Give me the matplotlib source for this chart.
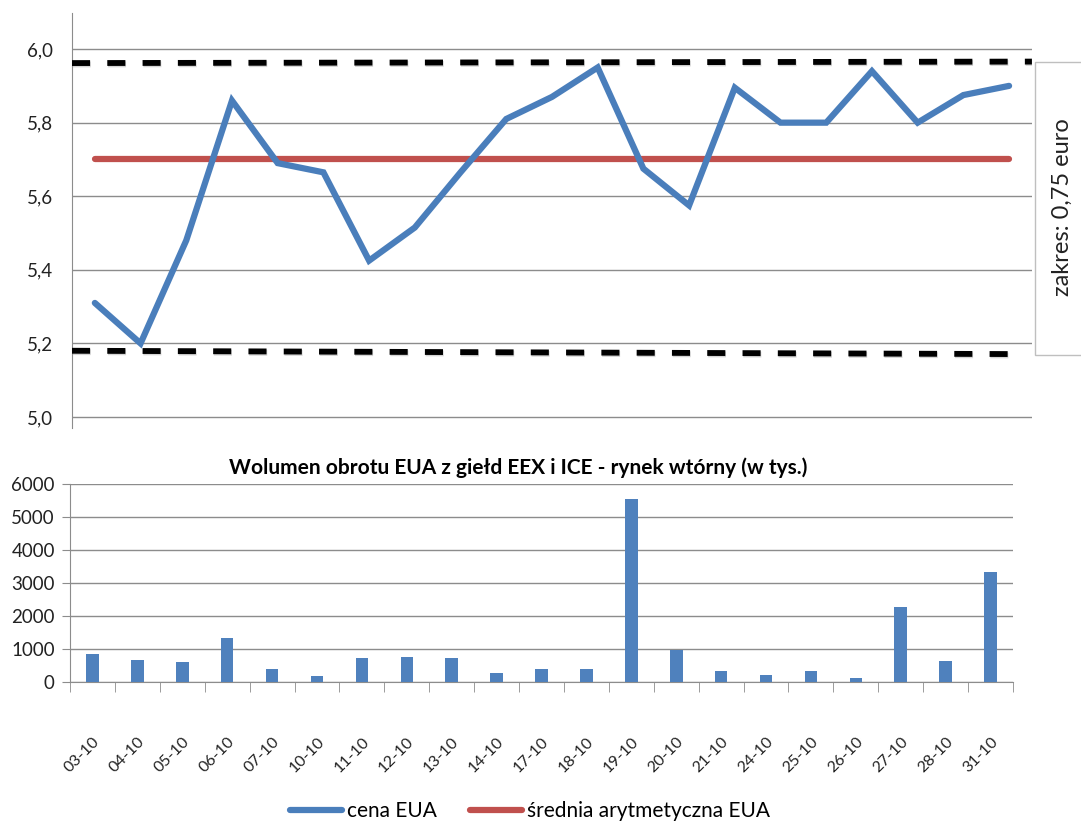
import matplotlib
matplotlib.use("Agg")
import matplotlib.pyplot as plt
import matplotlib.ticker as mticker
import matplotlib.patheffects as pe
from matplotlib.patches import Rectangle
import numpy as np

plt.rcParams["font.family"] = ["Lato", "DejaVu Sans"]

# ── Data ─────────────────────────────────────────────────────────────────────
dates = ["03-10", "04-10", "05-10", "06-10", "07-10", "10-10", "11-10",
         "12-10", "13-10", "14-10", "17-10", "18-10", "19-10", "20-10",
         "21-10", "24-10", "25-10", "26-10", "27-10", "28-10", "31-10"]
price = [5.31, 5.20, 5.48, 5.86, 5.69, 5.665, 5.425, 5.515, 5.665, 5.81, 5.87,
         5.95, 5.675, 5.575, 5.895, 5.80, 5.80, 5.94, 5.80, 5.875, 5.90]
mean_price = 5.70
upper_band = (5.962, 5.966)
lower_band = (5.180, 5.171)
volume = [840, 667, 596, 1323, 384, 182, 717, 747, 717, 263, 384,
          384, 5556, 960, 343, 212, 343, 131, 2273, 636, 3343]
range_text = "zakres: 0,75 euro"
volume_title = "Wolumen obrotu EUA z giełd EEX i ICE - rynek wtórny (w tys.)"

BLUE_LINE = "#4A7EBB"
BLUE_BAR = "#4F81BD"
RED = "#C0504D"
GRID = "#8C8C8C"

fig = plt.figure(figsize=(10.81, 8.25), dpi=100)
fig.patch.set_facecolor("white")

x = np.arange(len(dates))

# ── Top: price chart ─────────────────────────────────────────────────────────
ax = fig.add_axes([0.0666, 0.4812, 0.888, 0.503])
ax.plot(x, price, color=BLUE_LINE, linewidth=4.5, solid_joinstyle="miter",
        solid_capstyle="round", label="cena EUA", zorder=4)
ax.plot([x[0], x[-1]], [mean_price, mean_price], color=RED, linewidth=4.5,
        solid_capstyle="round", label="średnia arytmetyczna EUA", zorder=3)

shadow = [pe.SimpleLineShadow(offset=(0.5, -1.0), shadow_color="#888888", alpha=0.35),
          pe.Normal()]
band_style = dict(color="black", linewidth=4.2, linestyle=(0, (3.1, 2.95)),
                  path_effects=shadow, zorder=5)
ax.plot([-0.5, 20.5], upper_band, **band_style)
ax.plot([-0.5, 20.06], lower_band, **band_style)

ax.set_xlim(-0.5, 20.5)
ax.set_ylim(4.97, 6.098)
ax.set_yticks(np.arange(5.0, 6.01, 0.2))
ax.yaxis.set_major_formatter(mticker.FuncFormatter(lambda v, p: f"{v:.1f}".replace(".", ",")))
ax.tick_params(axis="y", length=0, pad=14, labelsize=13.5, colors="#222222")
ax.set_xticks([])
ax.yaxis.grid(True, color=GRID, linewidth=1)
ax.set_axisbelow(True)
for s in ["top", "right", "bottom"]:
    ax.spines[s].set_visible(False)
ax.spines["left"].set_color(GRID)

# range annotation box
fig.patches.append(Rectangle((1035 / 1081, 1 - 355 / 825), 0.06, 293 / 825,
                             transform=fig.transFigure, facecolor="white",
                             edgecolor="#BFBFBF", linewidth=1, clip_on=False))
fig.text(1062 / 1081, 1 - 207 / 825, range_text, rotation=90, ha="center",
         va="center", fontsize=17, color="#222222")

# ── Bottom: volume chart ─────────────────────────────────────────────────────
bx = fig.add_axes([0.0648, 0.1733, 0.8723, 0.24])
bx.bar(x, volume, width=0.28, color=BLUE_BAR, zorder=3)
bx.set_xlim(-0.5, 20.5)
bx.set_ylim(0, 6000)
bx.set_yticks(np.arange(0, 6001, 1000))
bx.yaxis.grid(True, color=GRID, linewidth=1)
bx.set_axisbelow(True)
bx.tick_params(axis="y", length=6, pad=5, labelsize=13.5, labelcolor="#222222", color=GRID)
bx.set_xticks(x)
bx.set_xticklabels(dates, rotation=45, ha="right", rotation_mode="anchor",
                   fontsize=11.5, color="#222222")
bx.tick_params(axis="x", which="major", length=0, pad=38)
bx.set_xticks(np.arange(-0.5, 21, 1), minor=True)
bx.tick_params(axis="x", which="minor", length=7, color=GRID, direction="out")
for s in ["top", "right"]:
    bx.spines[s].set_visible(False)
bx.spines["left"].set_color(GRID)
bx.spines["bottom"].set_color(GRID)
bx.set_title(volume_title, fontsize=15, fontweight="bold", pad=7, x=0.475)

# ── Legend ───────────────────────────────────────────────────────────────────
h, l = ax.get_legend_handles_labels()
fig.legend(h, l, loc="center", bbox_to_anchor=(530 / 1081, 1 - 811 / 825), ncol=2,
           frameon=False, fontsize=15, handlelength=2.5, handletextpad=0.25,
           columnspacing=1.6, borderpad=0.1)

fig.savefig("out.png", dpi=100, facecolor="white")
